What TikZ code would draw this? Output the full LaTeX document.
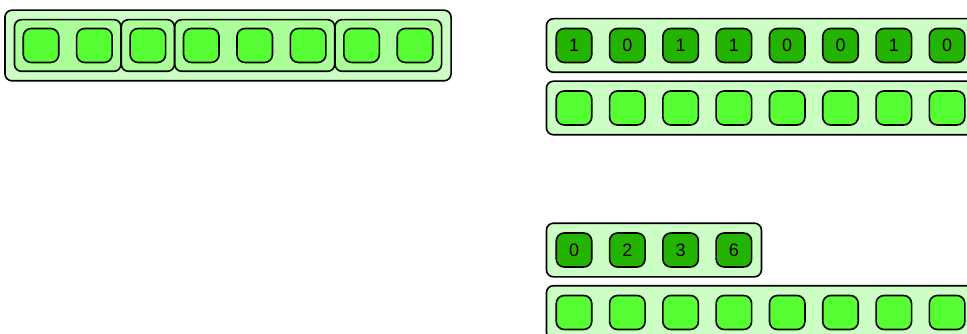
\documentclass[tikz,border=0pt]{standalone}
\usepackage{fontspec}
\setmainfont{Liberation Sans}
\usetikzlibrary{fit,backgrounds}
\definecolor{boxgreen}{HTML}{CCFFC4}
\definecolor{groupgreen}{HTML}{AAFF99}
\definecolor{cellgreen}{HTML}{55FF33}
\definecolor{bitgreen}{HTML}{22B400}
\tikzset{
  cell/.style={draw, line width=1.6pt, rounded corners=8pt, fill=cellgreen,
    minimum width=35.5pt, minimum height=34pt, inner sep=0pt},
  bitcell/.style={cell, fill=bitgreen, font=\fontsize{18}{20}\selectfont},
  rowbox/.style={draw, line width=1.6pt, rounded corners=7pt, fill=boxgreen, inner sep=9pt},
  groupbox/.style={rowbox, fill=groupgreen, inner sep=8pt},
}

\begin{document}
\begin{tikzpicture}[x=1pt, y=-1pt]
            \useasboundingbox (0,0) rectangle (967,334);
            % left: grouped cells
            \foreach \i in {0,...,7}
                \node[cell] (a\i) at ({41+53.43*\i},45.5) {};
            % right: bits and plain rows
            \foreach \b [count=\i from 0] in {1,0,1,1,0,0,1,0}
                \node[bitcell] (b\i) at ({574+53.3*\i},45.5) {\raisebox{-1pt}{\b}};
            \foreach \i in {0,...,7}
                \node[cell] (c\i) at ({574+53.3*\i},108) {};
            \foreach \b [count=\i from 0] in {0,2,3,6}
                \node[bitcell] (d\i) at ({574+53.3*\i},250) {\raisebox{-1pt}{\b}};
            \foreach \i in {0,...,7}
                \node[cell] (e\i) at ({574+53.3*\i},312.5) {};
            \begin{scope}[on background layer]
                \node[rowbox, inner sep=17.5pt, fit=(a0)(a7)] (outer) {};
                \node[groupbox, fit=(a0)(a1)] (g1) {};
                \node[groupbox, fit=(a2)] (g2) {};
                \node[groupbox, fit=(a3)(a5)] (g3) {};
                \node[groupbox, fit=(a6)(a7)] (g4) {};
                \node[rowbox, fit=(b0)(b7)] (bits) {};
                \node[rowbox, fit=(c0)(c7)] (row1) {};
                \node[rowbox, fit=(d0)(d3)] (idx) {};
                \node[rowbox, fit=(e0)(e7)] (row2) {};
            \end{scope}
        \end{tikzpicture}
\end{document}
